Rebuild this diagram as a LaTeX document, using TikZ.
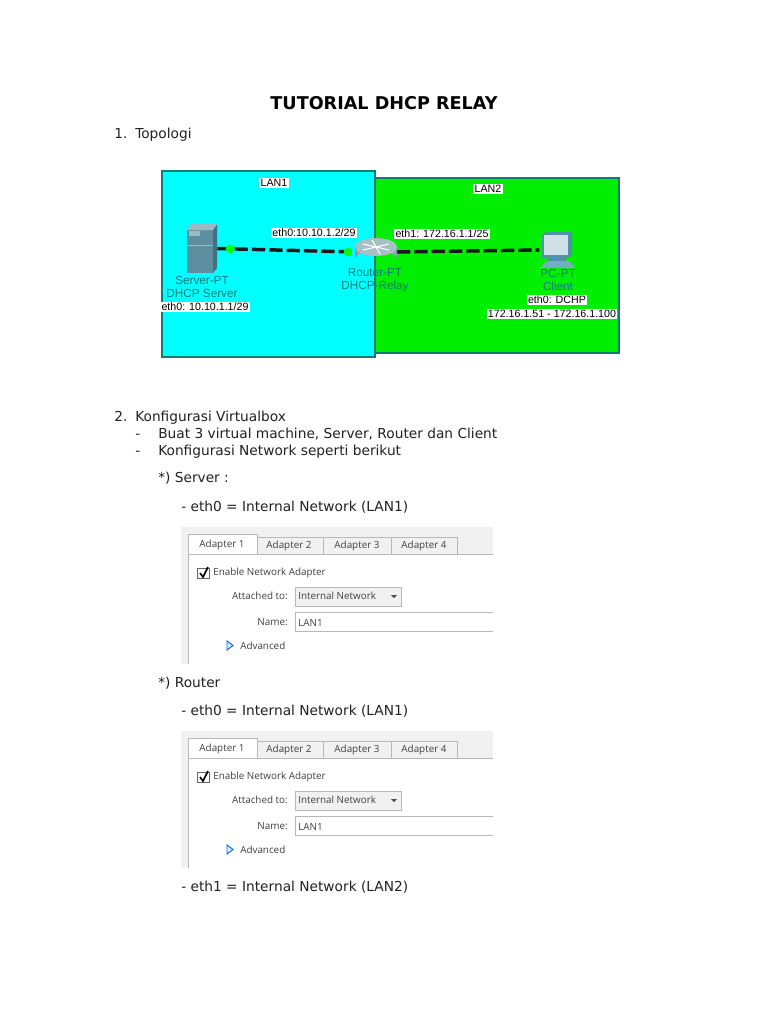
\documentclass[tikz,border=0pt]{standalone}
\usepackage{fontspec}
\setmainfont{DejaVu Sans}
\newfontfamily\uifont{Open Sans}
\newfontfamily\netfont{Liberation Sans}
\usetikzlibrary{arrows.meta}
\definecolor{lanone}{HTML}{00FFFF}
\definecolor{lantwo}{HTML}{00EE00}
\definecolor{lanedge}{HTML}{127C72}
\definecolor{iconteal}{HTML}{0E7C7C}
\definecolor{panelbg}{HTML}{F1F1F1}
\definecolor{panelline}{HTML}{B8B8B8}
\definecolor{doctext}{HTML}{222222}
\definecolor{srvfront}{HTML}{5E8FA0}
\definecolor{srvside}{HTML}{3F7183}
\definecolor{srvtop}{HTML}{9DBAC4}
\definecolor{rttop}{HTML}{A9BFC6}
\definecolor{rtdark}{HTML}{7E99A3}
\definecolor{pcframe}{HTML}{4F93A8}
\definecolor{pcscreen}{HTML}{CFE0E6}
\definecolor{pcbase}{HTML}{6FAFC0}
\tikzset{
  x=0.75pt,y=-0.75pt,
  doc/.style={anchor=base west,inner sep=0pt,text=doctext,font=\fontsize{10.3}{12}\selectfont},
  title/.style={anchor=base,inner sep=0pt,text=black,font=\bfseries\fontsize{13.2}{15}\selectfont},
  lan/.style={draw=lanedge,line width=1pt},
  tag/.style={fill=white,inner sep=1pt,text=black,font=\netfont\fontsize{8}{9}\selectfont},
  devlabel/.style={inner sep=0pt,text=iconteal,font=\netfont\fontsize{8.8}{10}\selectfont},
  link/.style={draw=black!90,line width=2.6pt,dash pattern=on 10pt off 3pt},
  hit/.style={inner sep=0pt,minimum size=0pt},
  linkdot/.style={circle,fill=green!95!cyan,inner sep=0pt,minimum size=6.5pt},
  tabbox/.style={draw=panelline,fill=panelbg,line width=0.5pt},
  ui/.style={inner sep=0pt,text=black!75,font=\uifont\fontsize{7.4}{9}\selectfont},
}
\newcommand{\vboxpanel}[2]{%
\begin{scope}[yshift=#1*-0.75pt]
  \fill[panelbg] (181,527) rectangle (493,664);
  \fill[white] (188,554) rectangle (493,664);
  \draw[panelline,line width=0.6pt] (188,664) -- (188,554) -- (493,554);
  \draw[tabbox] (257,554) rectangle (323,537);
  \draw[tabbox] (323,554) rectangle (391,537);
  \draw[tabbox] (391,554) rectangle (457,537);
  \draw[panelline,fill=white,line width=0.6pt] (188,554) -- (188,534) -- (257,534) -- (257,554);
  \node[ui] (#2t1) at (222,545) {Adapter 1};
  \node[ui] (#2t2) at (289,546) {Adapter 2};
  \node[ui] (#2t3) at (357,546) {Adapter 3};
  \node[ui] (#2t4) at (424,546) {Adapter 4};
  \draw[black!60,fill=white,line width=0.5pt] (197,568) rectangle (209,578);
  \draw[black,line width=1.2pt] (200,573) -- (203,577) -- (208,567);
  \node[ui,anchor=west] (#2en) at (213,573) {Enable Network Adapter};
  \node[ui,anchor=east] (#2at) at (288,596) {Attached to:};
  \draw[panelline,fill=panelbg,line width=0.6pt] (295,587) rectangle (401,606);
  \node[ui,anchor=west] (#2in) at (298,596) {Internal Network};
  \fill[black!70] (391,595) -- (397,595) -- (394,598) -- cycle;
  \node[ui,anchor=east] (#2na) at (288,622) {Name:};
  \draw[panelline,line width=0.6pt] (493,612) -- (295,612) -- (295,631) -- (493,631);
  \node[ui,anchor=west] (#2la) at (298,623) {LAN1};
  \draw[blue!60!cyan,fill=cyan!15,line width=0.7pt] (227,641) -- (233,645.5) -- (227,650) -- cycle;
  \node[ui,anchor=west] (#2ad) at (240,646) {Advanced};
\end{scope}}
\begin{document}
\begin{tikzpicture}
\useasboundingbox (0,0) rectangle (768,1024);
\fill[white] (0,0) rectangle (768,1024);
\node[title] (ttl) at (384,109) {TUTORIAL DHCP RELAY};
\node[doc] (s1n) at (114,138) {1.};
\node[doc] (s1) at (135,138) {Topologi};
% topology
\fill[lantwo] (375,178) rectangle (619,353);
\draw[lan] (375,178) -- (619,178) -- (619,353) -- (375,353);
\draw[lan,fill=lanone] (162,171) rectangle (375,357);
\node[hit,minimum width=22.5pt,minimum height=37pt] (server) at (202,248.5) {};
\node[hit,minimum width=31pt,minimum height=24pt] (router) at (376,252) {};
\node[hit,minimum width=26pt,minimum height=28pt] (pc) at (557,250) {};
\draw[link] (server.east) -- (router.west);
\draw[link] (router.east) -- (pc.west);
\node[linkdot] (d1) at (230,249) {};
\node[linkdot] (d2) at (348,252) {};
% server icon
\fill[srvfront] (187,230) rectangle (213,273);
\fill[srvside] (213,230) -- (217,224) -- (217,268) -- (213,273) -- cycle;
\fill[srvtop] (187,230) -- (191,224) -- (217,224) -- (213,230) -- cycle;
\fill[srvtop] (189,231) rectangle (200,236);
\draw[srvtop,line width=0.4pt] (187,245) -- (213,245);
% router icon
\shade[left color=rtdark,right color=rtdark,middle color=white] (355,247) -- (355,259) arc[start angle=180,end angle=360,x radius=21,y radius=8] -- (397,247) -- cycle;
\fill[rttop] (376,247) ellipse[x radius=21,y radius=9];
\draw[white,line width=0.8pt] (363,244) -- (389,250) (363,250) -- (389,244) (372,240) -- (380,254);
% pc icon
\fill[pcframe] (542,235) -- (546,232) -- (572,232) -- (572,255) -- (568,258) -- (542,258) -- cycle;
\fill[pcscreen] (544,235) rectangle (568,255);
\fill[pcframe] (548,258) rectangle (566,261);
\fill[pcbase] (540,268) -- (546,261) -- (570,261) -- (575,268) -- cycle;
\node[tag] (lan1) at (274,183) {LAN1};
\node[tag] (lan2) at (488,189) {LAN2};
\node[tag] (e1) at (314,233) {eth0:10.10.1.2/29};
\node[tag] (e2) at (442,234) {eth1: 172.16.1.1/25};
\node[tag] (e3) at (205,307) {eth0: 10.10.1.1/29};
\node[devlabel] (sv1) at (202,280) {Server-PT};
\node[devlabel] (sv2) at (202,293) {DHCP Server};
\node[devlabel] (rt1) at (375,273) {Router-PT};
\node[devlabel] (rt2) at (375,286) {DHCP-Relay};
\node[devlabel] (pc1) at (558,273) {PC-PT};
\node[devlabel] (pc2) at (558,286) {Client};
\node[tag] (e4) at (557,300) {eth0: DCHP};
\node[tag] (e5) at (552,314) {172.16.1.51 - 172.16.1.100};
% body text
\node[doc] (s2n) at (114,421) {2.};
\node[doc] (s2) at (135,421) {Konfigurasi Virtualbox};
\node[doc] (b1d) at (135,438) {-};
\node[doc] (b1) at (158,438) {Buat 3 virtual machine, Server, Router dan Client};
\node[doc] (b2d) at (135,455) {-};
\node[doc] (b2) at (158,455) {Konfigurasi Network seperti berikut};
\node[doc] (h1) at (158,482) {*) Server :};
\node[doc] (h2) at (181,511) {- eth0 = Internal Network (LAN1)};
\vboxpanel{0}{p}
\node[doc] (h3) at (158,687) {*) Router};
\node[doc] (h4) at (181,715) {- eth0 = Internal Network (LAN1)};
\vboxpanel{204}{q}
\node[doc] (h5) at (181,891) {- eth1 = Internal Network (LAN2)};
\end{tikzpicture}
\end{document}
